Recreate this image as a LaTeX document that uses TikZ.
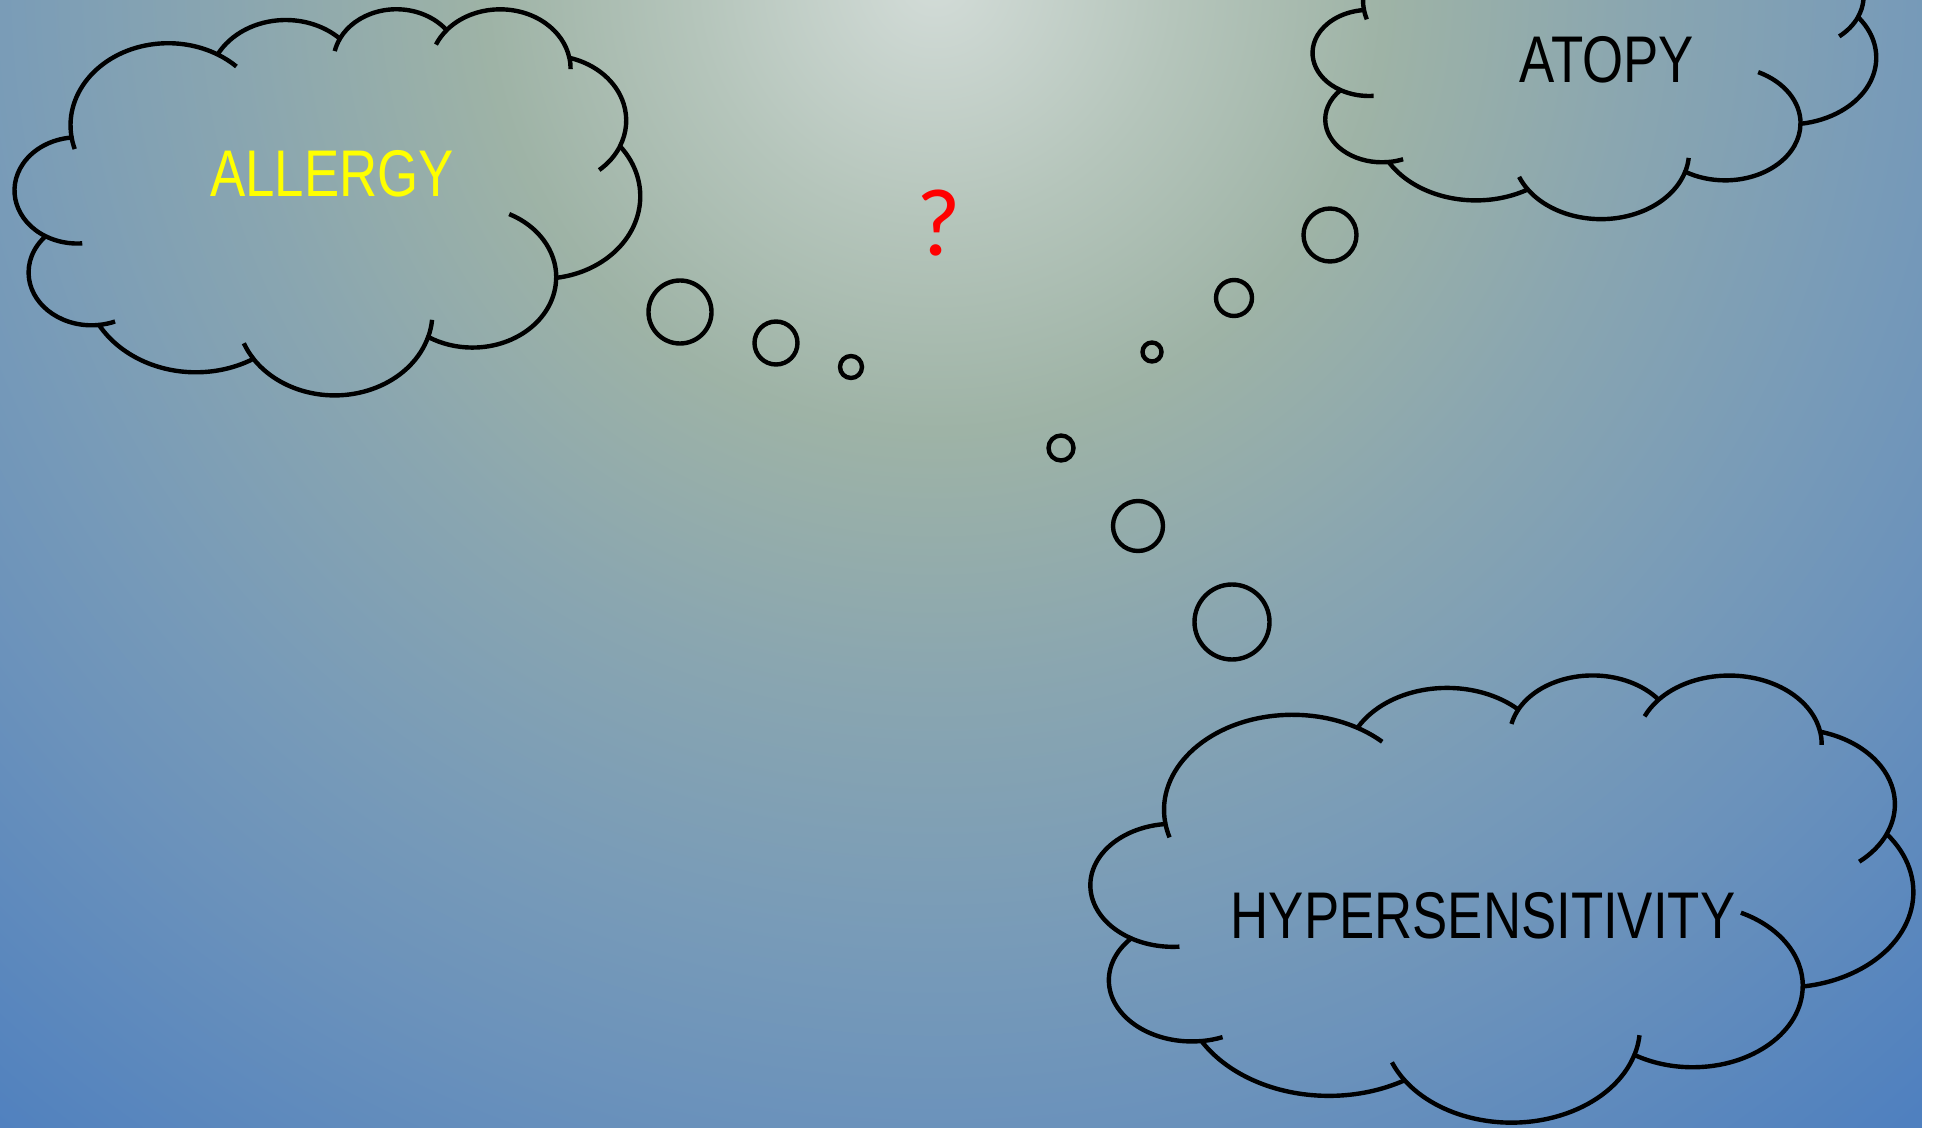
\documentclass[tikz,border=0pt]{standalone}
\usepackage{fontspec}
\newfontfamily\wordfont[FakeStretch=0.8]{Liberation Sans}
\newfontfamily\qfont{Carlito}
\definecolor{g0}{HTML}{D3DCD8}
\definecolor{g1}{HTML}{B5C5BB}
\definecolor{g2}{HTML}{9EB3A6}
\definecolor{g3}{HTML}{8AA6B0}
\definecolor{g4}{HTML}{789BB8}
\definecolor{g5}{HTML}{6B92BB}
\definecolor{g6}{HTML}{4F80BF}
\definecolor{wordyellow}{HTML}{FFFF00}
\definecolor{qred}{HTML}{FF0000}
% the path's edge corresponds to 25bp; circle radius 1600px -> 1px = 1/64 bp
\pgfdeclareradialshading{bgshade}{\pgfpoint{0bp}{0bp}}{color(0bp)=(g0); color(3.75bp)=(g1); color(7.03bp)=(g2); color(10.94bp)=(g3); color(15bp)=(g4); color(17.97bp)=(g5); color(23.44bp)=(g6); color(50bp)=(g6)}
% elliptical arc given with visual (OOXML) angles, converted to parametric
\newcommand\defarc[5]{%
  \pgfmathsetmacro\tmpS{atan2((#2)*sin(#4),(#3)*cos(#4))}%
  \pgfmathsetmacro\tmpE{atan2((#2)*sin((#4)+(#5)),(#3)*cos((#4)+(#5)))}%
  \pgfmathsetmacro\tmpD{mod(\tmpE-\tmpS+720,360)}%
  \pgfmathsetmacro\tmpD{(#5)>0 ? \tmpD : \tmpD-360}%
  \expandafter\xdef\csname #1\endcsname{arc[x radius=#2, y radius=#3, start angle=\tmpS, delta angle=\tmpD]}%
}
\defarc{ooA}{67.53}{91.90}{-190.49}{123.78}
\defarc{ooB}{53.33}{72.67}{-144.10}{89.95}
\defarc{ooC}{43.65}{59.45}{-145.81}{99.72}
\defarc{ooD}{48.57}{65.95}{-130.99}{117.24}
\defarc{ooE}{53.33}{72.73}{-78.71}{109.03}
\defarc{ooF}{67.75}{92.20}{-46.27}{130.27}
\defarc{ooG}{57.85}{78.67}{0.625}{114.03}
\defarc{ooH}{67.52}{92.15}{22.45}{115.17}
\defarc{ooI}{77.20}{105.43}{66.24}{75.71}
\defarc{ooJ}{43.60}{59.18}{-274.94}{146.74}
\defarc{ooK}{43.45}{59.45}{-246.83}{152.52}
\defarc{tkA}{43.45}{59.45}{113.17}{-26.43}
\defarc{tkB}{43.60}{59.18}{85.06}{-11.45}
\defarc{tkC}{67.52}{92.15}{137.62}{14.08}
\defarc{tkD}{67.52}{92.15}{22.45}{-16.0}
\defarc{tkE}{57.85}{78.67}{0.625}{-70.92}
\defarc{tkF}{53.33}{72.73}{30.32}{27.75}
\defarc{tkG}{48.57}{65.95}{-13.74}{14.86}
\defarc{tkH}{48.57}{65.95}{-130.99}{-18.2}
\defarc{tkI}{43.65}{59.45}{-145.81}{-17.7}
\defarc{tkJ}{67.53}{91.90}{-66.71}{12.3}
\defarc{tkK}{67.53}{91.90}{-190.49}{-11.86}
\newcommand\drawcloud[4]{%
  \begin{scope}[shift={(#1,#2)},xscale=#3/432,yscale=#4/432]
    \draw[cloudline] (39,143.7) \ooA coordinate (J1) \ooB coordinate (J2) \ooC coordinate (J3)
      \ooD coordinate (J4) \ooE coordinate (J5) \ooF coordinate (J6) \ooG coordinate (J7)
      \ooH coordinate (J8) \ooI coordinate (J9) \ooJ coordinate (J10) \ooK -- cycle;
    \draw[cloudline] (J10) \tkA;
    \draw[cloudline] (J9) \tkB;
    \draw[cloudline] (J8) \tkC;
    \draw[cloudline] (J7) \tkD;
    \draw[cloudline] (J6) \tkE;
    \draw[cloudline] (J5) \tkF;
    \draw[cloudline] (J4) \tkG;
    \draw[cloudline] (J3) \tkH;
    \draw[cloudline] (J2) \tkI;
    \draw[cloudline] (J1) \tkJ;
    \draw[cloudline] (39,143.7) \tkK;
  \end{scope}}
\begin{document}
\begin{tikzpicture}[x=0.5pt,y=-0.5pt,
  cloudline/.style={draw=black,line width=2.2pt,line join=round},
  bubble/.style={circle,draw=black,line width=2.2pt,inner sep=0pt},
  word/.style={font=\wordfont\fontsize{33}{36}\selectfont,inner sep=0pt,anchor=base},
  qmark/.style={font=\qfont\fontsize{48}{52}\selectfont,text=qred,inner sep=0pt,anchor=base}]
\useasboundingbox (0,0) rectangle (1934,1128);
\begin{scope}
  \clip (0,0) rectangle (1922,1128);
  \shade[shading=bgshade] (935,-20) circle[radius=1600];
\end{scope}
\fill[white] (1922,0) rectangle (1934,1128);
% clouds
\drawcloud{15}{8}{625}{386}
\drawcloud{1313}{-95}{563}{313}
\drawcloud{1091}{674}{822}{447}
% thought bubbles
\node[bubble,minimum size=31.5pt] (a1) at (680,312) {};
\node[bubble,minimum size=21.5pt] (a2) at (776,343) {};
\node[bubble,minimum size=11pt] (a3) at (851,367) {};
\node[bubble,minimum size=9.5pt] (t1) at (1152,352) {};
\node[bubble,minimum size=18pt] (t2) at (1234,298) {};
\node[bubble,minimum size=26.5pt] (t3) at (1330,235) {};
\node[bubble,minimum size=12.5pt] (h1) at (1061,448) {};
\node[bubble,minimum size=25pt] (h2) at (1138,526) {};
\node[bubble,minimum size=37.5pt] (h3) at (1232,622) {};
% texts
\node[word,text=wordyellow] (allergy) at (332,197) {ALLERGY};
\node[word] (atopy) at (1607,83) {ATOPY};
\node[word] (hyper) at (1483,938) {HYPERSENSITIVITY};
\node[qmark] (q) at (939,256) {?};
\end{tikzpicture}
\end{document}
